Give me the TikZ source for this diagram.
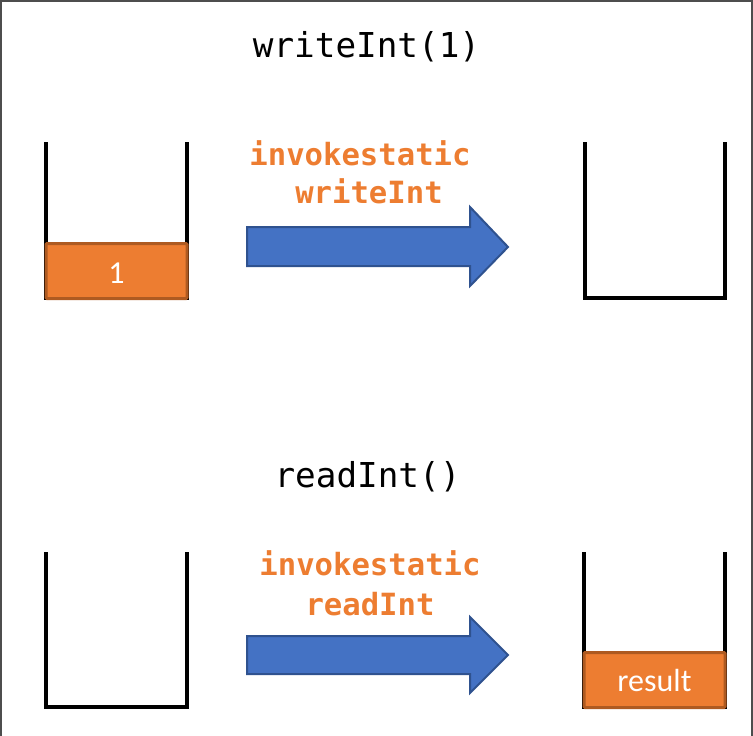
\documentclass[tikz,border=0pt]{standalone}
\usepackage{fontspec}
\setmainfont{Carlito}
\setmonofont{DejaVu Sans Mono}
\definecolor{boxorange}{HTML}{ED7D31}
\definecolor{boxedge}{HTML}{AE5A21}
\definecolor{arrowblue}{HTML}{4472C4}
\definecolor{arrowedge}{HTML}{2F528F}
\definecolor{framegrey}{HTML}{4D4D4D}
\tikzset{
  cupline/.style={line width=3.5pt, black},
  valbox/.style={draw=boxedge, fill=boxorange, line width=3pt, rounded corners=1pt},
  valtext/.style={text=white, font=\fontsize{32}{36}\selectfont},
  bigarrow/.style={draw=arrowedge, fill=arrowblue, line width=2pt, line join=miter},
  calltext/.style={font=\ttfamily\fontsize{34.3}{40}\selectfont, anchor=base},
  optext/.style={font=\ttfamily\bfseries\fontsize{30.6}{36}\selectfont, text=boxorange, anchor=base}
}
\begin{document}
\begin{tikzpicture}[x=1pt,y=-1pt]
\useasboundingbox (0,0) rectangle (753,736);
\draw[framegrey, line width=2pt] (1,736) -- (1,1) -- (752,1) -- (752,736);

% titles
\node[calltext] (t1) at (366.5,57) {writeInt(1)};
\node[calltext] (t2) at (367.5,487) {readInt()};

% top-left cup with value 1
\draw[cupline] (46,142) -- (46,298) -- (187,298) -- (187,142);
\node[valbox, minimum width=141pt, minimum height=55pt, inner sep=0pt] (v1) at (116.5,271) {};
\node[valtext] (v1t) at (116.5,273) {1};

% top arrow
\path[bigarrow] (247,227) -- (470,227) -- (470,207) -- (508,247) -- (470,286) -- (470,266) -- (247,266) -- cycle;
\node[optext] (o1) at (360,165) {invokestatic};
\node[optext] (o2) at (369,203) {writeInt};

% top-right cup empty
\draw[cupline] (585,142) -- (585,298) -- (725,298) -- (725,142);

% bottom-left cup empty
\draw[cupline] (46,552) -- (46,707) -- (187,707) -- (187,552);

% bottom arrow
\path[bigarrow] (247,636) -- (470,636) -- (470,617) -- (508,655) -- (470,693) -- (470,674) -- (247,674) -- cycle;
\node[optext] (o3) at (370,575) {invokestatic};
\node[optext] (o4) at (370,615) {readInt};

% bottom-right cup with result
\draw[cupline] (584,552) -- (584,707) -- (725,707) -- (725,552);
\node[valbox, minimum width=141pt, minimum height=55pt, inner sep=0pt] (v2) at (654.5,680) {};
\node[valtext] (v2t) at (654.5,681) {result};
\end{tikzpicture}
\end{document}
